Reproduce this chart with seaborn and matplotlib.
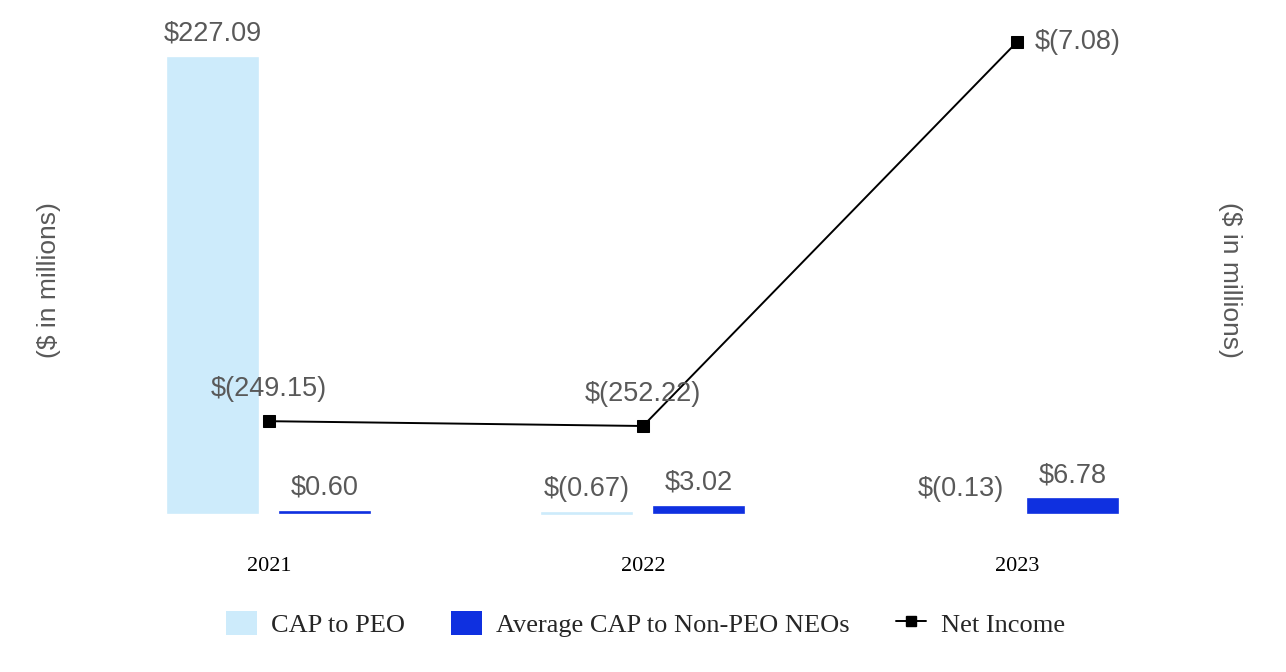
import numpy as np
import pandas as pd
import matplotlib
matplotlib.use("Agg")
import matplotlib.pyplot as plt
import seaborn as sns
from matplotlib.patches import Patch
from matplotlib.lines import Line2D

# data ($ in millions)
years = ["2021", "2022", "2023"]
cap_peo = [227.09, -0.67, -0.13]
cap_neo = [0.60, 3.02, 6.78]
net_income = [-249.15, -252.22, -7.08]
series_names = ["CAP to PEO", "Average CAP to Non-PEO NEOs"]

peo_color = "#CDEBFB"
neo_color = "#0F30E0"
label_gray = "#595959"

df = pd.DataFrame({
    "year": years * 2,
    "series": [series_names[0]] * 3 + [series_names[1]] * 3,
    "value": cap_peo + cap_neo,
})

sns.set_style("white")
fig, ax = plt.subplots(figsize=(12.86, 6.72), dpi=100)
fig.subplots_adjust(left=82 / 1286, right=1204 / 1286, top=1 - 20 / 672, bottom=1 - 540 / 672)

sns.barplot(data=df, x="year", y="value", hue="series", palette=[peo_color, neo_color],
            width=0.6, gap=0.2, legend=False, ax=ax, saturation=1)
# thin bars (0.60, -0.67) still show as a line like in the reference
for cont, vals, col in zip(ax.containers, [cap_peo, cap_neo], [peo_color, neo_color]):
    for bar, v in zip(cont, vals):
        if abs(v) >= 0.5:
            bar.set_edgecolor(col)
            bar.set_linewidth(1.2)
ax.set_xlim(-0.5, 2.5)
ax.set_ylim(-13.5, 246.1)

# bar labels
for cont, vals in zip(ax.containers, [cap_peo, cap_neo]):
    for bar, v in zip(cont, vals):
        txt = f"${v:.2f}" if v >= 0 else f"$({abs(v):.2f})"
        xc = bar.get_x() + bar.get_width() / 2
        ax.annotate(txt, (xc, max(v, 0)), xytext=(0, 8), textcoords="offset points",
                    ha="center", va="bottom", fontsize=19.5, color=label_gray,
                    family="Liberation Sans")

ax2 = ax.twinx()
sns.lineplot(x=np.arange(len(years)), y=net_income, color="black", linewidth=1.4,
             marker="s", markersize=8, markeredgecolor="black", ax=ax2)
ax2.set_ylim(-325.0, 6.96)

for i, v in enumerate(net_income):
    txt = f"$({abs(v):.2f})"
    if i == len(years) - 1:
        ax2.annotate(txt, (i, v), xytext=(13, 0), textcoords="offset points",
                     ha="left", va="center", fontsize=19.5, color=label_gray,
                     family="Liberation Sans")
    else:
        ax2.annotate(txt, (i, v), xytext=(0, 14), textcoords="offset points",
                     ha="center", va="bottom", fontsize=19.5, color=label_gray,
                     family="Liberation Sans")

for a in (ax, ax2):
    for s in a.spines.values():
        s.set_visible(False)
    a.set_yticks([])
    a.set_xlabel("")

ax.set_ylabel("($ in millions)", fontsize=19, color=label_gray, family="Liberation Sans", labelpad=15)
ax2.set_ylabel("($ in millions)", fontsize=19, color=label_gray, family="Liberation Sans",
               rotation=-90, labelpad=27)
ax.tick_params(axis="x", length=0, pad=12)
for t in ax.get_xticklabels():
    t.set_fontfamily("Liberation Serif")
    t.set_fontsize(16)
    t.set_color("black")

handles = [
    Patch(facecolor=peo_color, edgecolor="none"),
    Patch(facecolor=neo_color, edgecolor="none"),
    Line2D([0], [0], color="black", marker="s", markersize=7, linewidth=1.4),
]
fig.legend(handles, ["CAP to PEO", "Average CAP to Non-PEO NEOs", "Net Income"],
           loc="lower center", bbox_to_anchor=(0.502, 0.017), ncol=3, frameon=False,
           prop={"family": "Liberation Serif", "size": 19}, handlelength=1.15,
           handleheight=1.05, handletextpad=0.55, columnspacing=1.75)

fig.savefig("out.png", dpi=100)
